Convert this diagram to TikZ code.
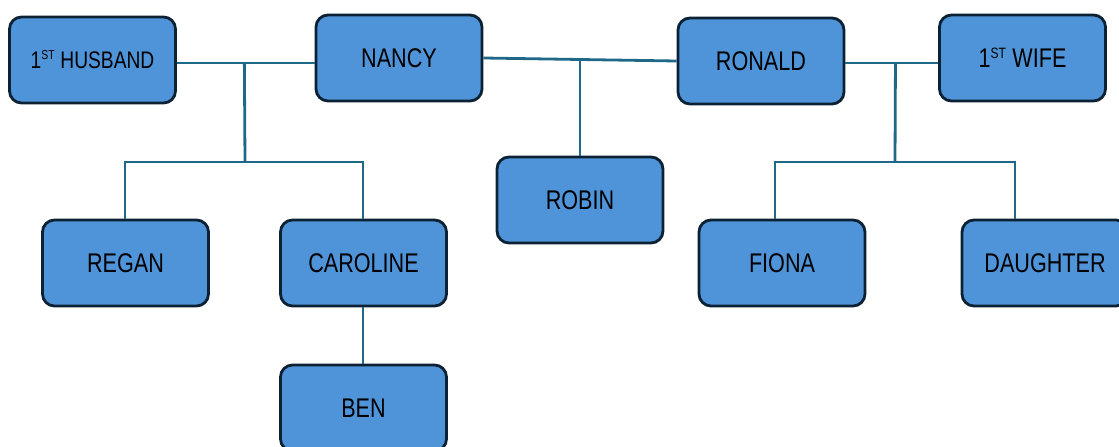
\documentclass[tikz,border=0pt]{standalone}
\usepackage{fontspec}
\setmainfont{Liberation Sans}[FakeStretch=0.8]
\usetikzlibrary{calc}
\definecolor{boxfill}{RGB}{79,148,216}
\definecolor{boxline}{RGB}{12,34,52}
\definecolor{linkc}{RGB}{31,104,136}
\tikzset{
  person/.style={draw=boxline, line width=2.8pt, fill=boxfill, rounded corners=12pt,
    minimum width=166pt, minimum height=86pt, inner sep=0pt, font=\fontsize{27}{30}\selectfont, text=black},
  smalltext/.style={font=\fontsize{24}{28}\selectfont},
  link/.style={draw=linkc, line width=2.8pt}
}
\newcommand{\supst}{\textsuperscript{\fontsize{15}{16}\selectfont ST}}
\newcommand{\supsmall}{\textsuperscript{\fontsize{13}{14}\selectfont ST}}
\begin{document}
\begin{tikzpicture}[x=1pt,y=-1pt]
\useasboundingbox (0,0) rectangle (1119,447);
\clip (0,0) rectangle (1119,447);
\node[person, smalltext] (husband) at (92.5,60) {1\supsmall{} HUSBAND};
\node[person] (nancy) at (399,58) {NANCY};
\node[person] (ronald) at (761,61) {RONALD};
\node[person] (wife) at (1022.5,58) {1\supst{} WIFE};
\node[person] (robin) at (580,200) {ROBIN};
\node[person] (regan) at (125.5,263) {REGAN};
\node[person] (caroline) at (363.5,263) {CAROLINE};
\node[person] (ben) at (363.5,408) {BEN};
\node[person] (fiona) at (782,263) {FIONA};
\node[person] (daughter) at (1045,263) {DAUGHTER};
\coordinate (m1) at ($(husband.east)!0.49!(nancy.west)+(0,4)$);
\coordinate (b1) at (245,162);
\coordinate (m2) at ($(nancy.east)!0.5!(ronald.west)$);
\coordinate (m3) at ($(ronald.east)!0.54!(wife.west)+(0,3.6)$);
\coordinate (b3) at (895,162);
\draw[link] (husband.east |- m1) -- (m1) -- (nancy.west |- m1);
\draw[link] (m1) -- (b1);
\draw[link] ([xshift=-0.5pt]regan.north) |- (b1) -| ([xshift=-0.5pt]caroline.north);
\draw[link] ([xshift=-0.5pt]caroline.south) -- ([xshift=-0.5pt]ben.north);
\draw[link] (nancy.east) -- (ronald.west);
\draw[link] (m2) -- (m2 |- robin.north);
\draw[link] (ronald.east |- m3) -- (m3) -- (wife.west |- m3);
\draw[link] (m3) -- (b3);
\draw[link] ([xshift=-7pt]fiona.north) |- (b3) -| ([xshift=-30pt]daughter.north);
\end{tikzpicture}
\end{document}
